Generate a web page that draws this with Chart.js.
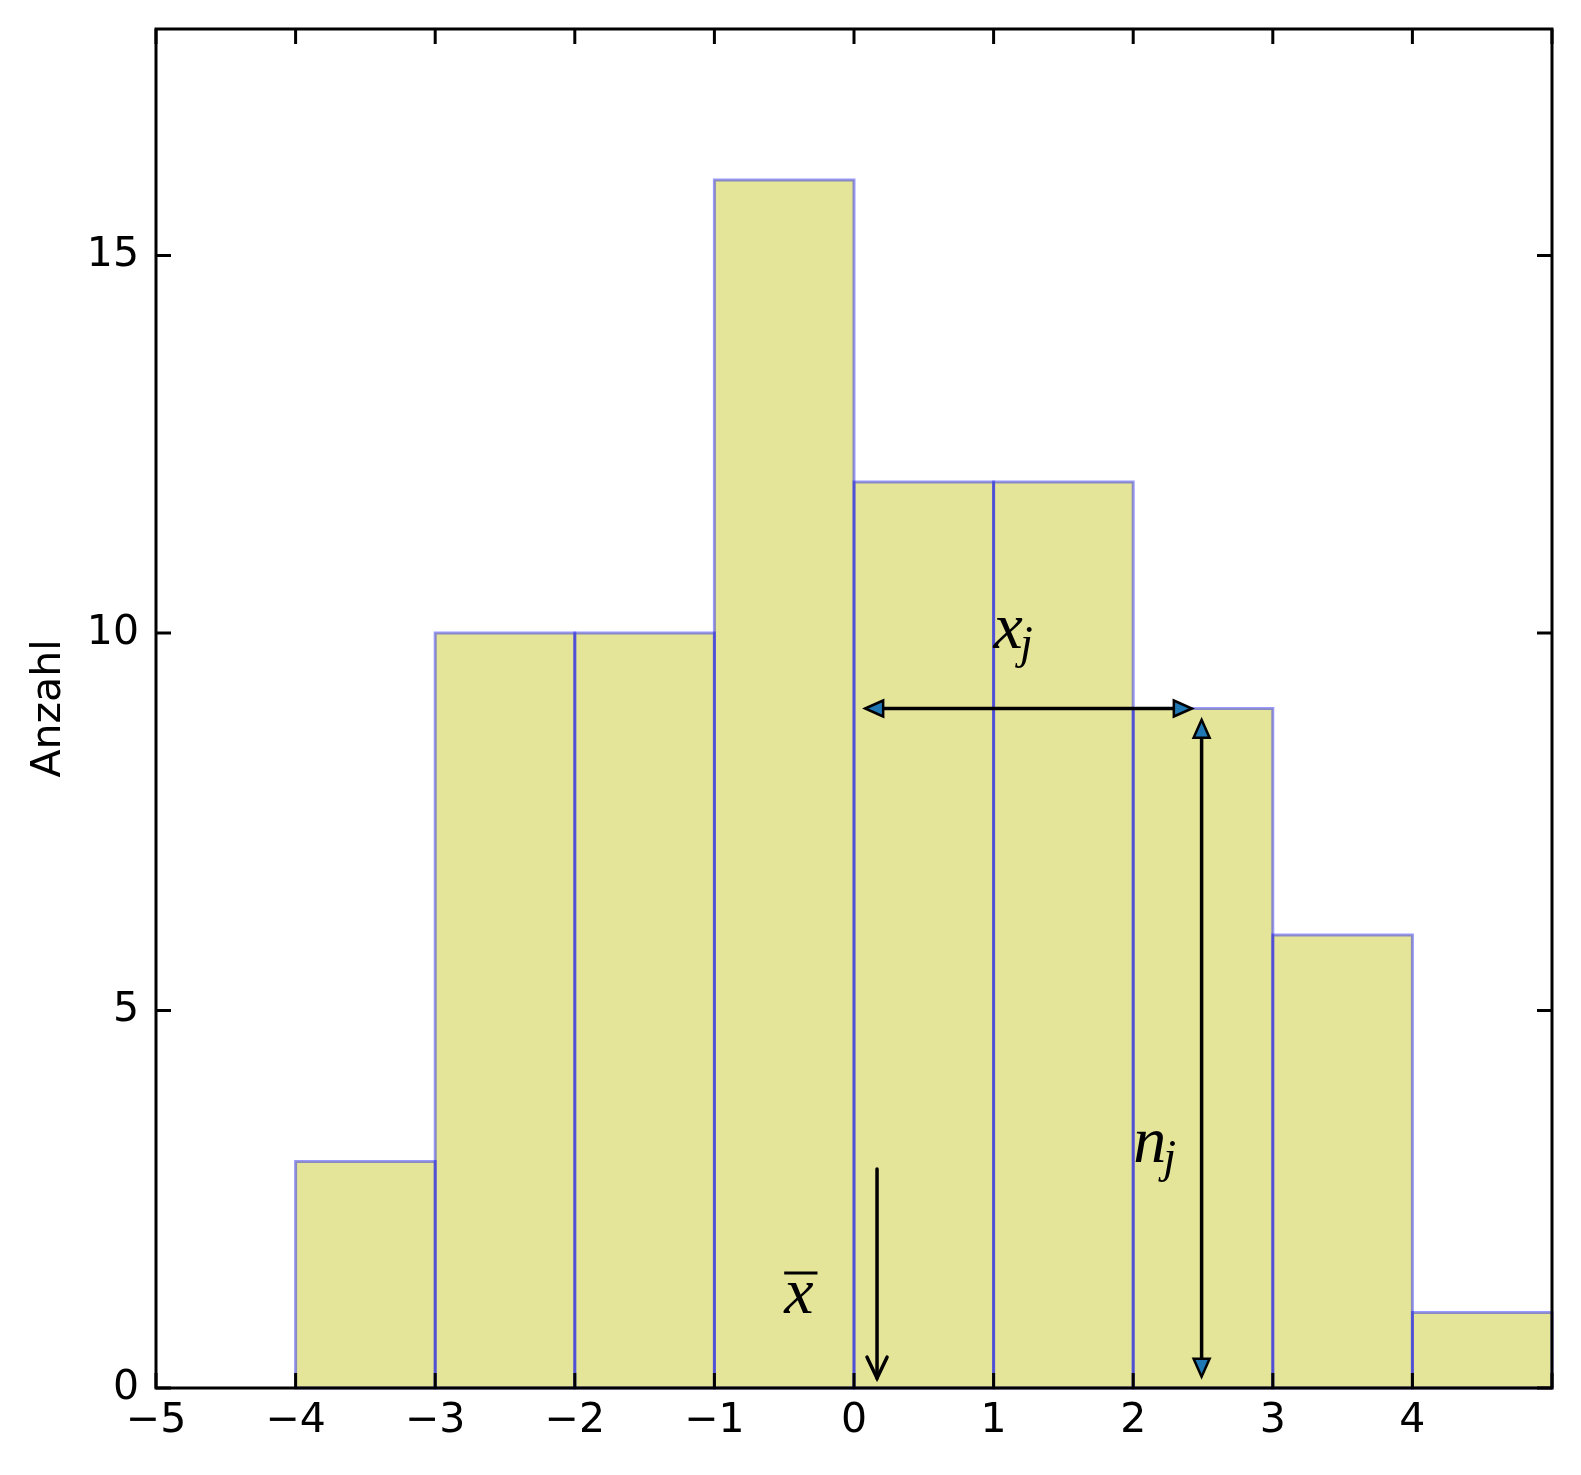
<!DOCTYPE html>
<html>
<head>
<meta charset="utf-8">
<script src="https://cdn.jsdelivr.net/npm/chart.js@4.4.1/dist/chart.umd.min.js"></script>
<style>
  html, body { margin: 0; padding: 0; background: #fff; }
  canvas { display: block; }
</style>
</head>
<body>
<canvas id="histChart" width="1581" height="1475"></canvas>
<script>
// histogram: bin centres (bins of width 1) and counts
const binCenters = [-3.5, -2.5, -1.5, -0.5, 0.5, 1.5, 2.5, 3.5, 4.5];
const counts = [3, 10, 10, 16, 12, 12, 9, 6, 1];
const xTicks = [-5, -4, -3, -2, -1, 0, 1, 2, 3, 4, 5];
const yTicks = [0, 5, 10, 15];

// annotation arrows in data units: [x1, y1, x2, y2]
const arrowXj = [0.08, 9, 2.42, 9];
const arrowNj = [2.49, 8.85, 2.49, 0.15];
const arrowMean = [0.165, 2.9, 0.165, 0.13];

// math labels: [x, baseline y, symbol, subscript, overline]
const mathLabels = [
  [1.0, 9.8, 'x', 'j', false],
  [2.0, 3.0, 'n', 'j', false],
  [-0.5, 1.0, 'x', '', true],
];

const minus = (v) => String(v).replace('-', '\u2212');

function line(ctx, x1, y1, x2, y2) {
  ctx.beginPath();
  ctx.moveTo(x1, y1);
  ctx.lineTo(x2, y2);
  ctx.stroke();
}

// filled "|>" arrow head, tip at (tx, ty), pointing along (dx, dy)
function filledHead(ctx, tx, ty, dx, dy) {
  const len = 18, half = 8;
  ctx.beginPath();
  ctx.moveTo(tx, ty);
  ctx.lineTo(tx - len * dx - half * dy, ty - len * dy + half * dx);
  ctx.lineTo(tx - len * dx + half * dy, ty - len * dy - half * dx);
  ctx.closePath();
  ctx.fillStyle = '#1f77b4';
  ctx.fill();
  ctx.lineWidth = 2.5;
  ctx.strokeStyle = '#000';
  ctx.stroke();
}

function toPx(chart, a) {
  const { x, y } = chart.scales;
  return [x.getPixelForValue(a[0]), y.getPixelForValue(a[1]),
          x.getPixelForValue(a[2]), y.getPixelForValue(a[3])];
}

function doubleArrow(ctx, chart, a) {
  const [x1, y1, x2, y2] = toPx(chart, a);
  const l = Math.hypot(x2 - x1, y2 - y1);
  const dx = (x2 - x1) / l, dy = (y2 - y1) / l;
  ctx.strokeStyle = '#000';
  ctx.lineWidth = 3.5;
  line(ctx, x1 + dx * 10, y1 + dy * 10, x2 - dx * 10, y2 - dy * 10);
  filledHead(ctx, x2, y2, dx, dy);
  filledHead(ctx, x1, y1, -dx, -dy);
}

function openArrow(ctx, chart, a) {
  const [x1, y1, x2, y2] = toPx(chart, a);
  const l = Math.hypot(x2 - x1, y2 - y1);
  const dx = (x2 - x1) / l, dy = (y2 - y1) / l;
  const len = 21, half = 10;
  ctx.strokeStyle = '#000';
  ctx.lineWidth = 3.5;
  ctx.lineCap = 'round';
  line(ctx, x1, y1, x2, y2);
  ctx.beginPath();
  ctx.moveTo(x2 - len * dx - half * dy, y2 - len * dy + half * dx);
  ctx.lineTo(x2, y2);
  ctx.lineTo(x2 - len * dx + half * dy, y2 - len * dy - half * dx);
  ctx.stroke();
  ctx.lineCap = 'butt';
}

const overlay = {
  id: 'overlay',
  afterDatasetsDraw(chart) {
    const { ctx, chartArea: area, scales: { x, y } } = chart;
    ctx.save();

    // bar edges centred on bin borders, like matplotlib
    ctx.strokeStyle = 'rgba(0, 0, 255, 0.4)';
    ctx.lineWidth = 3;
    chart.getDatasetMeta(0).data.forEach((bar) => {
      const p = bar.getProps(['x', 'y', 'base', 'width'], true);
      ctx.strokeRect(p.x - p.width / 2, p.y, p.width, p.base - p.y);
    });

    doubleArrow(ctx, chart, arrowXj);
    doubleArrow(ctx, chart, arrowNj);
    openArrow(ctx, chart, arrowMean);

    ctx.fillStyle = '#000';
    ctx.textBaseline = 'alphabetic';
    ctx.textAlign = 'left';
    mathLabels.forEach(([lx, ly, sym, sub, bar]) => {
      const px = x.getPixelForValue(lx);
      const py = y.getPixelForValue(ly);
      ctx.font = 'italic 66px "Liberation Serif"';
      ctx.fillText(sym, px, py);
      const w = ctx.measureText(sym).width;
      if (sub) {
        ctx.font = 'italic 46px "Liberation Serif"';
        ctx.fillText(sub, px + w - 3, py + 10);
      }
      if (bar) {
        ctx.fillRect(px, py - 41, w + 4, 3);
      }
    });

    // frame and inward ticks on all four sides
    ctx.strokeStyle = '#000';
    ctx.lineWidth = 3;
    ctx.strokeRect(area.left, area.top, area.right - area.left, area.bottom - area.top);
    const tick = 15;
    xTicks.forEach((v) => {
      const px = x.getPixelForValue(v);
      line(ctx, px, area.bottom, px, area.bottom - tick);
      line(ctx, px, area.top, px, area.top + tick);
    });
    yTicks.forEach((v) => {
      const py = y.getPixelForValue(v);
      line(ctx, area.left, py, area.left + tick, py);
      line(ctx, area.right, py, area.right - tick, py);
    });
    ctx.restore();
  },
};

Chart.defaults.color = '#000';
Chart.defaults.font.family = '"DejaVu Sans"';
Chart.defaults.font.size = 41;

const ctx = document.getElementById('histChart').getContext('2d');
new Chart(ctx, {
  type: 'bar',
  data: {
    datasets: [
      {
        label: 'Anzahl',
        data: binCenters.map((c, i) => ({ x: c, y: counts[i] })),
        backgroundColor: 'rgba(191, 191, 0, 0.4)',
        borderWidth: 0,
        barPercentage: 1,
        categoryPercentage: 1,
      },
    ],
  },
  options: {
    responsive: false,
    animation: false,
    devicePixelRatio: 1,
    events: [],
    layout: { padding: { left: 0, top: 29, right: 29, bottom: 0 } },
    plugins: { legend: { display: false }, tooltip: { enabled: false } },
    scales: {
      x: {
        type: 'linear',
        min: -5,
        max: 5,
        offset: false,
        grid: { display: false, drawTicks: false },
        border: { display: false },
        afterBuildTicks: (s) => { s.ticks = xTicks.map((v) => ({ value: v })); },
        afterFit: (s) => {
          s.height = 87;
          s.paddingLeft = 0;
          s.paddingRight = 0;
        },
        ticks: {
          padding: 9,
          maxRotation: 0,
          autoSkip: false,
          callback: (v) => (v === 5 ? '' : minus(v)),
        },
      },
      y: {
        min: 0,
        max: 18,
        grid: { display: false, drawTicks: false },
        border: { display: false },
        afterBuildTicks: (s) => { s.ticks = yTicks.map((v) => ({ value: v })); },
        afterFit: (s) => {
          s.width = 156;
          s.paddingTop = 0;
          s.paddingBottom = 0;
        },
        ticks: { padding: 17, callback: (v) => minus(v) },
        title: { display: true, text: 'Anzahl', padding: { top: 25, bottom: 0 } },
      },
    },
  },
  plugins: [overlay],
});
</script>
</body>
</html>
